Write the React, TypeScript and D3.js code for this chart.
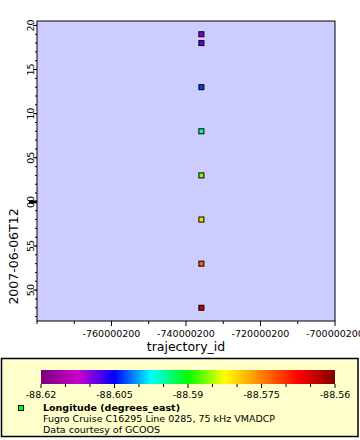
import React from "react";
import * as d3 from "d3";

const trajectoryId = -735870000;
const times = [
  "2007-06-06T12:19:00Z",
  "2007-06-06T12:18:00Z",
  "2007-06-06T12:13:00Z",
  "2007-06-06T12:08:00Z",
  "2007-06-06T12:03:00Z",
  "2007-06-06T11:58:00Z",
  "2007-06-06T11:53:00Z",
  "2007-06-06T11:48:00Z",
];
const longitudes = [-88.6095, -88.6085, -88.603, -88.5945, -88.5865, -88.5805, -88.573, -88.564];

const xDomain = [-780000200, -700000200];
const xTickLabels = [-760000200, -740000200, -720000200, -700000200];
const yDomain = ["2007-06-06T11:46:30Z", "2007-06-06T12:20:30Z"];
const colorDomain = [-88.62, -88.56];
const colorTickLabels = [-88.62, -88.605, -88.59, -88.575, -88.56];
const rainbowColors = ["#780078", "#cc00cc", "#0000ff", "#00ffff", "#00ff00", "#ffff00", "#ff8000", "#ff0000", "#800000"];

const FONT = "DejaVu Sans, sans-serif";

export default function App() {
  const W = 360, H = 440;
  const left = 37, right = 335, top = 21, bottom = 321;
  const x = d3.scaleLinear().domain(xDomain).range([left, right]);
  const y = d3.scaleUtc().domain(yDomain.map((d) => new Date(d))).range([bottom, top]);
  const color = d3
    .scaleLinear<string>()
    .domain(rainbowColors.map((_, i) => colorDomain[0] + (i * (colorDomain[1] - colorDomain[0])) / (rainbowColors.length - 1)))
    .range(rainbowColors)
    .interpolate(d3.interpolateRgb);

  const yMajor = y.ticks(d3.utcMinute.every(5)!);
  const yMinor = y.ticks(d3.utcMinute.every(1)!);
  const xMinor = d3.range(xDomain[0], xDomain[1] + 1, 1e7);
  const fmtMin = d3.utcFormat("%M");

  const cbL = 41, cbR = 335, cbT = 370, cbB = 384;
  const cx = d3.scaleLinear().domain(colorDomain).range([cbL, cbR]);
  const cbTicks = d3.range(0, 13).map((i) => colorDomain[0] + i * 0.005);

  return (
    <svg width={W} height={H} style={{ position: "absolute", left: 0, top: 0 }} fontFamily={FONT}>
      <rect x={0} y={0} width={W} height={H} fill="#ffffff" />
      <rect x={left} y={top} width={right - left} height={bottom - top} fill="#ccccff" />
      {/* y ticks */}
      {yMinor.map((t, i) => (
        <line key={"ym" + i} x1={left - 2} x2={left} y1={y(t)} y2={y(t)} stroke="#000" strokeWidth={1} />
      ))}
      {yMajor.map((t, i) => {
        const hour = t.getUTCMinutes() === 0;
        return (
          <g key={"yM" + i}>
            <line x1={hour ? left - 8 : left - 4} x2={left} y1={y(t)} y2={y(t)} stroke="#000" strokeWidth={hour ? 3 : 1} />
            <text
              transform={`translate(${33.5},${y(t)}) rotate(-90)`}
              textAnchor="middle"
              fontSize={9.5}
              fill="#000"
            >
              {fmtMin(t)}
            </text>
          </g>
        );
      })}
      {/* x ticks */}
      {xMinor.map((v, i) => {
        const major = xTickLabels.includes(v);
        return <line key={"xm" + i} x1={x(v)} x2={x(v)} y1={bottom} y2={bottom + (major ? 5 : 3)} stroke="#000" strokeWidth={1} />;
      })}
      {xTickLabels.map((v, i) => (
        <text key={"xl" + i} x={x(v)} y={337} textAnchor="middle" fontSize={9.5} fill="#000">
          {String(v)}
        </text>
      ))}
      <rect x={left} y={top} width={right - left} height={bottom - top} fill="none" stroke="#000" strokeWidth={1} />
      {/* points */}
      {times.map((t, i) => (
        <rect
          key={"p" + i}
          x={x(trajectoryId) - 2.5}
          y={y(new Date(t)) - 2.5}
          width={5}
          height={5}
          fill={color(longitudes[i])}
          stroke="#000"
          strokeWidth={1}
        />
      ))}
      {/* axis titles */}
      <text x={186} y={351} textAnchor="middle" fontSize={12.5} fill="#000">trajectory_id</text>
      <text transform={`translate(18,256.5) rotate(-90)`} textAnchor="middle" fontSize={12.5} fill="#000">
        2007-06-06T12
      </text>
      {/* legend */}
      <rect x={1.5} y={358.5} width={356.5} height={78} fill="#ffffcc" stroke="#000" strokeWidth={1.5} />
      <defs>
        <linearGradient id="rainbow" x1="0" x2="1" y1="0" y2="0">
          {rainbowColors.map((c, i) => (
            <stop key={i} offset={i / (rainbowColors.length - 1)} stopColor={c} />
          ))}
        </linearGradient>
      </defs>
      <rect x={cbL} y={cbT} width={cbR - cbL} height={cbB - cbT} fill="url(#rainbow)" />
      {cbTicks.map((v, i) => (
        <line key={"cb" + i} x1={cx(v)} x2={cx(v)} y1={cbB} y2={cbB + (i % 3 === 0 ? 4 : 3)} stroke="#000" strokeWidth={1} />
      ))}
      {colorTickLabels.map((v, i) => (
        <text key={"cl" + i} x={cx(v)} y={398} textAnchor="middle" fontSize={9.5} fill="#000">
          {String(v)}
        </text>
      ))}
      <rect x={18.5} y={405.5} width={5} height={5} fill="#00ff00" stroke="#000" strokeWidth={1} />
      <text x={43} y={411} fontSize={9.5} fontWeight="bold" fill="#000">Longitude (degrees_east)</text>
      <text x={43} y={422} fontSize={9.5} fill="#000">Fugro Cruise C16295 Line 0285, 75 kHz VMADCP</text>
      <text x={43} y={433} fontSize={9.5} fill="#000">Data courtesy of GCOOS</text>
    </svg>
  );
}
